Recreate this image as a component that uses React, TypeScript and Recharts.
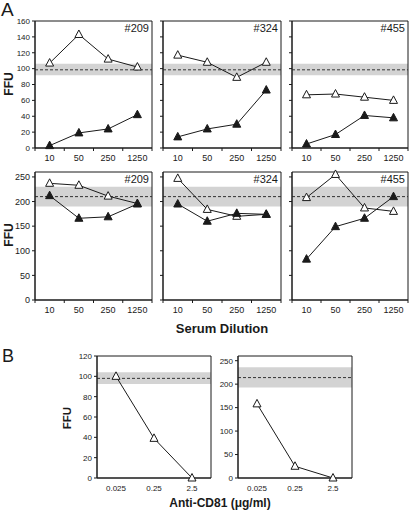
import { LineChart, Line, XAxis, YAxis, ReferenceArea, ReferenceLine } from 'recharts';

const dilutions = ['10', '50', '250', '1250'];
const antiCd81 = ['0.025', '0.25', '2.5'];

// panel A, upper row (y 0-160)
const top209Open = [107, 143, 112, 102];
const top209Filled = [3, 19, 24, 42];
const top324Open = [117, 108, 89, 108];
const top324Filled = [14, 24, 30, 73];
const top455Open = [67, 68, 64, 60];
const top455Filled = [5, 17, 41, 38];
const topTicks = [0, 20, 40, 60, 80, 100, 120, 140, 160];

// panel A, lower row (y 0-260)
const bot209Open = [237, 233, 211, 196];
const bot209Filled = [212, 166, 169, 195];
const bot324Open = [247, 184, 170, 174];
const bot324Filled = [195, 160, 176, 174];
const bot455Open = [208, 255, 187, 180];
const bot455Filled = [83, 149, 166, 210];
const botTicks = [0, 50, 100, 150, 200, 250];

// panel B
const cd81Left = [100, 39, 0];
const cd81Right = [158, 25, 0];
const bLeftTicks = [0, 20, 40, 60, 80, 100, 120];

const INK = '#1a1a1a';

const Tri = ({ cx, cy, filled }: any) => {
  if (cx == null || cy == null) return null;
  return (
    <polygon
      points={`${cx},${cy - 4.5} ${cx - 4},${cy + 3} ${cx + 4},${cy + 3}`}
      fill={filled ? INK : '#fff'}
      stroke={INK}
      strokeWidth={1}
    />
  );
};

const XTick = ({ x, y, payload, index, bw, n, fs, marks }: any) => (
  <g>
    {marks && <line x1={x - bw / 2} x2={x - bw / 2} y1={y - 7} y2={y - 4} stroke={INK} />}
    {marks && index === n - 1 && <line x1={x + bw / 2} x2={x + bw / 2} y1={y - 7} y2={y - 4} stroke={INK} />}
    <text x={x} y={y} dy="0.71em" textAnchor="middle" fontSize={fs} fill={INK}>
      {payload.value}
    </text>
  </g>
);

type PanelProps = {
  left: number;
  top: number;
  w: number;
  h: number;
  cats: string[];
  open: number[];
  filled?: number[];
  max: number;
  ticks: number[];
  band: [number, number];
  mid: number;
  title?: string;
  yw: number;
  yLabels: boolean;
  yFont: number;
  xFont: number;
  marks: boolean;
};

function Panel(p: PanelProps) {
  const data = p.cats.map((c, i) => ({ d: c, open: p.open[i], filled: p.filled ? p.filled[i] : null }));
  const mt = 4;
  const mr = 2;
  const xh = 22;
  const n = p.cats.length;
  const bw = p.w / n;
  const last = n - 1;
  return (
    <div style={{ position: 'absolute', left: p.left - p.yw, top: p.top - mt }}>
      <LineChart
        width={p.w + p.yw + mr}
        height={p.h + mt + xh}
        data={data}
        margin={{ top: mt, right: mr, left: 0, bottom: 0 }}
      >
        <XAxis
          dataKey="d"
          height={xh}
          interval={0}
          padding={{ left: bw / 2, right: bw / 2 }}
          tickLine={false}
          tickSize={3}
          tickMargin={4}
          axisLine={{ stroke: INK }}
          tick={(t: any) => <XTick {...t} bw={bw} n={n} fs={p.xFont} marks={p.marks} />}
        />
        {/* full-width helper axis for the band and frame */}
        <XAxis xAxisId="full" type="number" domain={[0, last]} hide />
        <YAxis
          width={p.yw}
          domain={[0, p.max]}
          ticks={p.ticks}
          interval={0}
          tickSize={3}
          tickMargin={2}
          axisLine={{ stroke: INK }}
          tickLine={{ stroke: INK }}
          tick={{ fontSize: p.yFont, fill: INK }}
          tickFormatter={(v: number) => (p.yLabels ? String(v) : '')}
        />
        <ReferenceArea xAxisId="full" x1={0} x2={last} y1={p.band[0]} y2={p.band[1]} fill="#d3d3d3" fillOpacity={1} stroke="none" />
        <ReferenceLine xAxisId="full" y={p.mid} stroke="#333" strokeDasharray="3 2" />
        <ReferenceArea
          xAxisId="full"
          x1={0}
          x2={last}
          y1={0}
          y2={p.max}
          fill="none"
          stroke={INK}
          strokeWidth={1}
          label={p.title ? { value: p.title, position: 'insideTopRight', offset: 3, fontSize: 11, fill: INK } : undefined}
        />
        <Line
          dataKey="open"
          stroke={INK}
          strokeWidth={1}
          isAnimationActive={false}
          dot={(d: any) => <Tri key={`o${d.index}`} cx={d.cx} cy={d.cy} filled={false} />}
        />
        {p.filled && (
          <Line
            dataKey="filled"
            stroke={INK}
            strokeWidth={1}
            isAnimationActive={false}
            dot={(d: any) => <Tri key={`f${d.index}`} cx={d.cx} cy={d.cy} filled />}
          />
        )}
      </LineChart>
    </div>
  );
}

const cols = [
  { x: 35, w: 117 },
  { x: 163, w: 118 },
  { x: 292, w: 116 },
];

const topRow = [
  { title: '#209', open: top209Open, filled: top209Filled },
  { title: '#324', open: top324Open, filled: top324Filled },
  { title: '#455', open: top455Open, filled: top455Filled },
];

const botRow = [
  { title: '#209', open: bot209Open, filled: bot209Filled },
  { title: '#324', open: bot324Open, filled: bot324Filled },
  { title: '#455', open: bot455Open, filled: bot455Filled },
];

const bold = (size: number) => ({ position: 'absolute' as const, fontWeight: 'bold' as const, fontSize: size, color: INK, whiteSpace: 'nowrap' as const });

export default function App() {
  return (
    <div
      style={{
        position: 'absolute',
        left: 0,
        top: 0,
        width: 410,
        height: 511,
        overflow: 'hidden',
        background: '#fff',
        fontFamily: '"Liberation Sans", Arial, sans-serif',
      }}
    >
      {topRow.map((r, i) => (
        <Panel
          key={`t${i}`}
          left={cols[i].x}
          top={21}
          w={cols[i].w}
          h={127}
          cats={dilutions}
          open={r.open}
          filled={r.filled}
          max={160}
          ticks={topTicks}
          band={[91.5, 106]}
          mid={98.5}
          title={r.title}
          yw={i === 0 ? 35 : 4}
          yLabels={i === 0}
          yFont={8}
          xFont={9}
          marks
        />
      ))}
      {botRow.map((r, i) => (
        <Panel
          key={`b${i}`}
          left={cols[i].x}
          top={172}
          w={cols[i].w}
          h={128}
          cats={dilutions}
          open={r.open}
          filled={r.filled}
          max={260}
          ticks={botTicks}
          band={[190, 230]}
          mid={210}
          title={r.title}
          yw={i === 0 ? 35 : 4}
          yLabels={i === 0}
          yFont={9}
          xFont={9}
          marks
        />
      ))}
      <Panel
        left={97}
        top={356}
        w={114}
        h={122}
        cats={antiCd81}
        open={cd81Left}
        max={120}
        ticks={bLeftTicks}
        band={[92.5, 104]}
        mid={98}
        yw={30}
        yLabels
        yFont={8}
        xFont={8}
        marks={false}
      />
      <Panel
        left={238}
        top={356}
        w={114}
        h={122}
        cats={antiCd81}
        open={cd81Right}
        max={260}
        ticks={botTicks}
        band={[193, 236]}
        mid={214}
        yw={30}
        yLabels
        yFont={8}
        xFont={8}
        marks={false}
      />

      <div style={{ position: 'absolute', left: 1, top: -1, fontSize: 19, color: INK }}>A</div>
      <div style={{ position: 'absolute', left: 2, top: 346, fontSize: 18, color: INK }}>B</div>

      <div style={{ ...bold(12), left: 9, top: 84, transform: 'translate(-50%, -50%) rotate(-90deg)' }}>FFU</div>
      <div style={{ ...bold(12), left: 9, top: 235, transform: 'translate(-50%, -50%) rotate(-90deg)' }}>FFU</div>
      <div style={{ ...bold(11.5), left: 67, top: 418, transform: 'translate(-50%, -50%) rotate(-90deg)' }}>FFU</div>

      <div style={{ ...bold(13), left: 222, top: 328, transform: 'translate(-50%, -50%)' }}>Serum Dilution</div>
      <div style={{ ...bold(12), left: 220, top: 503, transform: 'translate(-50%, -50%)' }}>Anti-CD81 (μg/ml)</div>
    </div>
  );
}
